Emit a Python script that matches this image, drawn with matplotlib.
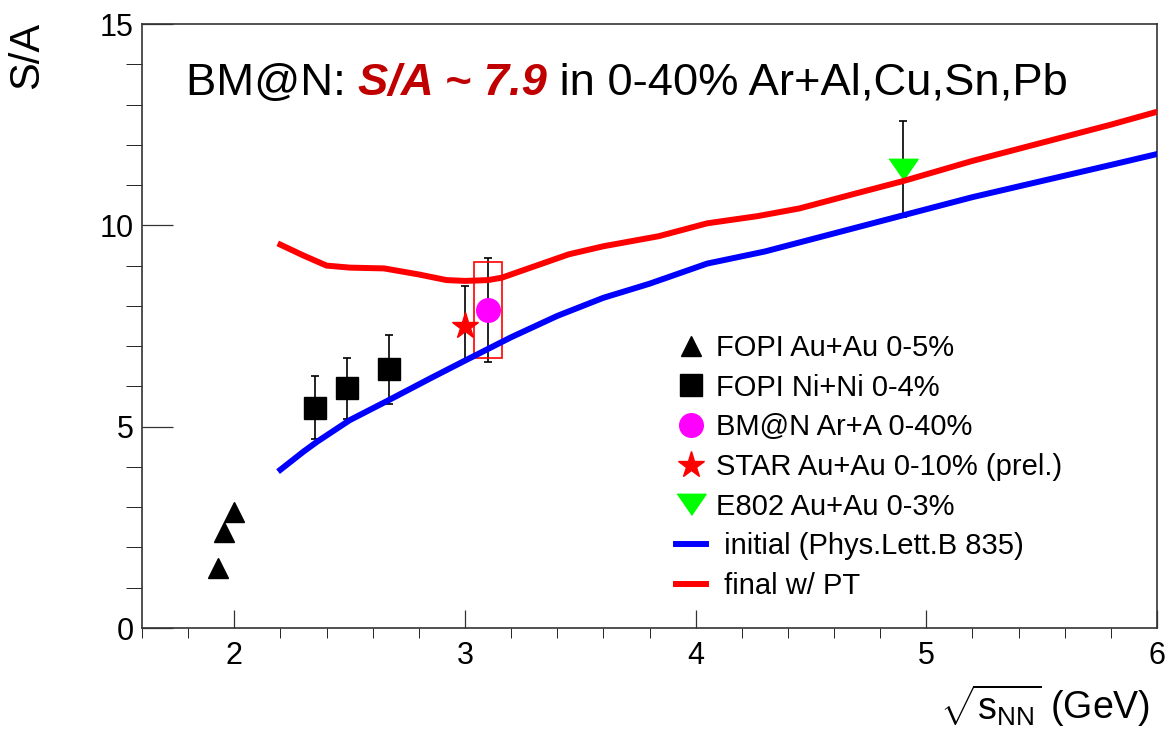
import matplotlib
matplotlib.use("Agg")
import matplotlib.pyplot as plt
from matplotlib.patches import Rectangle
from matplotlib.ticker import MultipleLocator

plt.rcParams['font.family'] = ['Liberation Sans', 'DejaVu Sans']
plt.rcParams['mathtext.fontset'] = 'custom'
plt.rcParams['mathtext.rm'] = 'Liberation Sans'
plt.rcParams['mathtext.it'] = 'Liberation Sans:italic'
plt.rcParams['mathtext.bf'] = 'Liberation Sans:bold'

# FOPI Au+Au 0-5%
fopi_au_x = [1.93, 1.955, 2.0]
fopi_au_y = [1.5, 2.38, 2.87]

# FOPI Ni+Ni 0-4%
fopi_ni_x = [2.35, 2.49, 2.67]
fopi_ni_y = [5.47, 5.95, 6.42]
fopi_ni_err = [0.78, 0.75, 0.85]

# STAR Au+Au 0-10% (prel.)
star_x = [3.0]
star_y = [7.5]
star_err_lo = [0.85]
star_err_hi = [1.0]

# BM@N Ar+A 0-40%
bmn_x = [3.1]
bmn_y = [7.9]
bmn_stat = [1.3]
bmn_sys = [1.2]
bmn_sys_dx = 0.06

# E802 Au+Au 0-3%
e802_x = [4.9]
e802_y = [11.4]
e802_err = [1.2]

# model curves
initial_x = [2.2, 2.3, 2.36, 2.5, 2.67, 2.85, 3.0, 3.2, 3.4, 3.6, 3.8, 4.05,
             4.3, 4.7, 4.9, 5.2, 5.5, 5.8, 6.0]
initial_y = [3.93, 4.38, 4.63, 5.16, 5.66, 6.2, 6.64, 7.22, 7.75, 8.2, 8.55, 9.05,
             9.35, 9.95, 10.25, 10.7, 11.1, 11.5, 11.77]
final_x = [2.2, 2.3, 2.4, 2.5, 2.65, 2.8, 2.92, 3.0, 3.1, 3.16, 3.3, 3.45, 3.6,
           3.84, 4.05, 4.27, 4.45, 4.7, 4.9, 5.2, 5.5, 5.8, 6.0]
final_y = [9.52, 9.25, 9.0, 8.95, 8.93, 8.78, 8.64, 8.62, 8.64, 8.7, 8.98, 9.28, 9.48,
           9.73, 10.05, 10.23, 10.42, 10.8, 11.1, 11.6, 12.05, 12.5, 12.82]

fig = plt.figure(figsize=(11.72, 7.34), dpi=100)
W, H = 1172, 734
ax = fig.add_axes([142 / W, 106 / H, (1157 - 142) / W, (628 - 24) / H])

# error bars
ax.errorbar(fopi_ni_x, fopi_ni_y, yerr=fopi_ni_err, fmt='none', ecolor='black',
            elinewidth=1.2, capsize=3, capthick=1.2, zorder=2)
ax.errorbar(star_x, star_y, yerr=[star_err_lo, star_err_hi], fmt='none', ecolor='black',
            elinewidth=1.2, capsize=3, capthick=1.2, zorder=2)
ax.errorbar(bmn_x, bmn_y, yerr=bmn_stat, fmt='none', ecolor='black',
            elinewidth=1.2, capsize=3, capthick=1.2, zorder=2)
ax.errorbar(e802_x, e802_y, yerr=e802_err, fmt='none', ecolor='black',
            elinewidth=1.2, capsize=3, capthick=1.2, zorder=2)

# systematic box for BM@N
for x, y, s in zip(bmn_x, bmn_y, bmn_sys):
    ax.add_patch(Rectangle((x - bmn_sys_dx, y - s), 2 * bmn_sys_dx, 2 * s,
                           fill=False, edgecolor='red', lw=1.2, zorder=2))

flat_tri = [(-1.0, 0.7), (1.0, 0.7), (0.0, -0.75)]

h1, = ax.plot(fopi_au_x, fopi_au_y, '^', color='black', ms=15, ls='none', zorder=3)
h2, = ax.plot(fopi_ni_x, fopi_ni_y, 's', color='black', ms=16, ls='none', zorder=3)
h3, = ax.plot(bmn_x, bmn_y, 'o', color='#ff00ff', ms=17, ls='none', zorder=3)
h4, = ax.plot(star_x, star_y, '*', color='red', ms=20, ls='none', zorder=3)
h5, = ax.plot(e802_x, e802_y, marker=flat_tri, color='#00ff00', ms=21, ls='none', zorder=3)
h6, = ax.plot(initial_x, initial_y, color='#0000ff', lw=4.3, zorder=4)
h7, = ax.plot(final_x, final_y, color='#ff0000', lw=4.3, zorder=4)

ax.set_xlim(1.6, 6.0)
ax.set_ylim(0, 15)
ax.xaxis.set_major_locator(MultipleLocator(1))
ax.xaxis.set_minor_locator(MultipleLocator(0.2))
ax.yaxis.set_major_locator(MultipleLocator(5))
ax.yaxis.set_minor_locator(MultipleLocator(1))
ax.tick_params(direction='in', top=False, right=False, labelsize=22, width=0.9,
               color='#333333')
ax.tick_params(axis='y', which='major', length=22, pad=6)
ax.tick_params(axis='y', which='minor', length=11.3)
ax.tick_params(axis='x', which='major', length=13, pad=9)
ax.tick_params(axis='x', which='minor', length=7.2)
for sp in ax.spines.values():
    sp.set_linewidth(1.2)
    sp.set_color('#333333')

labels = ['FOPI Au+Au 0-5%', 'FOPI Ni+Ni 0-4%', 'BM@N Ar+A 0-40%',
          'STAR Au+Au 0-10% (prel.)', 'E802 Au+Au 0-3%',
          ' initial (Phys.Lett.B 835)', ' final w/ PT']
ax.legend([h1, h2, h3, h4, h5, h6, h7], labels, loc='upper left',
          bbox_to_anchor=(676 / W, 1 - 334 / H), bbox_transform=fig.transFigure,
          frameon=False, fontsize=21, handlelength=1.03, handletextpad=0.34,
          labelspacing=0.4, borderpad=0, borderaxespad=0)

# headline
t1 = fig.text(186 / W, 1 - 95 / H, 'BM@N: ', fontsize=32.7, va='baseline')
t2 = fig.text(0, 0, 'S/A ~ 7.9', fontsize=32.7, color='#c00000',
              fontweight='bold', fontstyle='italic')
t3 = fig.text(0, 0, ' in 0-40% Ar+Al,Cu,Sn,Pb', fontsize=32.7)
fig.canvas.draw()
r = fig.canvas.get_renderer()
x = t1.get_window_extent(r).x1
t2.set_position((x / W, 1 - 95 / H))
t2.set_va('baseline')
fig.canvas.draw()
x = t2.get_window_extent(r).x1
t3.set_position((x / W, 1 - 95 / H))
t3.set_va('baseline')

fig.text(1150 / W, 1 - 719 / H, r'$\sqrt{\mathrm{s}_{\mathrm{NN}}}$ (GeV)', fontsize=27,
         ha='right', va='baseline')
fig.text(27 / W, 1 - 22 / H, 'S/A', fontsize=30, rotation=90, ha='center', va='top')

fig.savefig('out.png', dpi=100)
